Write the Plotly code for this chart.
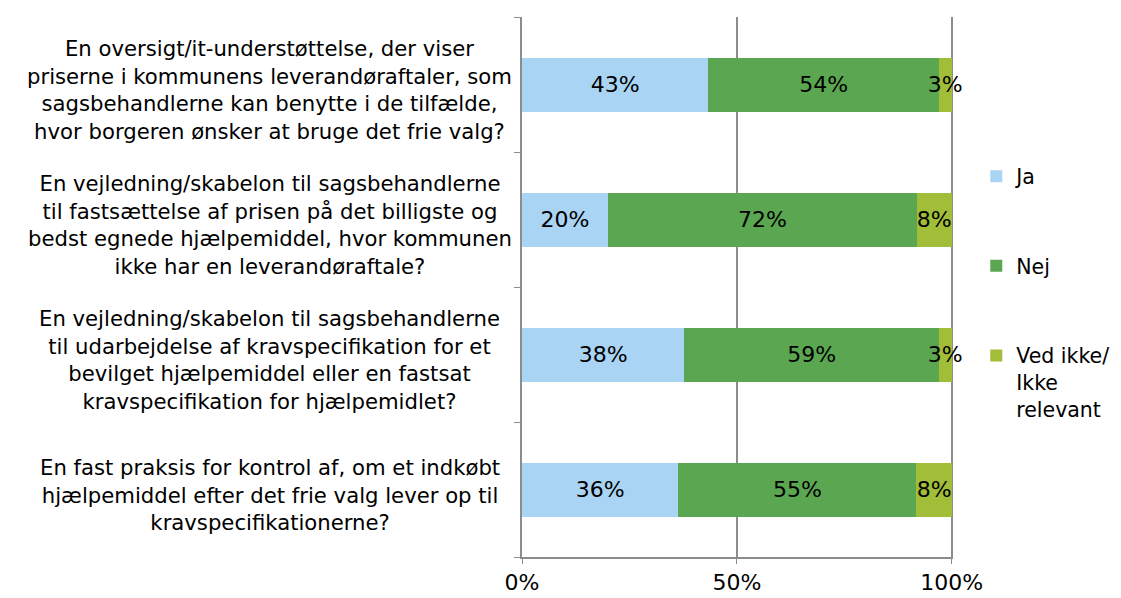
import plotly.graph_objects as go

categories = [
    "En oversigt/it-understøttelse, der viser<br>priserne i kommunens leverandøraftaler, som<br>sagsbehandlerne kan benytte i de tilfælde,<br>hvor borgeren ønsker at bruge det frie valg?",
    "En vejledning/skabelon til sagsbehandlerne<br>til fastsættelse af prisen på det billigste og<br>bedst egnede hjælpemiddel, hvor kommunen<br>ikke har en leverandøraftale?",
    "En vejledning/skabelon til sagsbehandlerne<br>til udarbejdelse af kravspecifikation for et<br>bevilget hjælpemiddel eller en fastsat<br>kravspecifikation for hjælpemidlet?",
    "En fast praksis for kontrol af, om et indkøbt<br>hjælpemiddel efter det frie valg lever op til<br>kravspecifikationerne?",
]
series_names = ["Ja", "Nej", "Ved ikke/<br>Ikke<br>relevant"]
ja = [0.434, 0.200, 0.378, 0.364]
nej = [0.536, 0.719, 0.592, 0.554]
ved_ikke = [0.030, 0.081, 0.030, 0.082]
colors = ["#A9D4F3", "#5BA651", "#A2BD37"]
x_ticks = [0, 0.5, 1.0]
x_ticklabels = ["0%", "50%", "100%"]

FONT = "DejaVu Sans"
FS = 22
ids = list(range(len(categories)))

fig = go.Figure()
for name, vals, col in zip(series_names, [ja, nej, ved_ikke], colors):
    fig.add_trace(go.Bar(
        y=ids, x=vals, name=name, orientation="h",
        marker=dict(color=col, line=dict(width=0)),
        text=[f"{round(v*100)}%" for v in vals],
        textposition="inside", insidetextanchor="middle", textangle=0,
        textfont=dict(color="black", size=FS, family=FONT),
        constraintext="none", cliponaxis=False,
        legendgroup=name,
    ))

for i, cat in enumerate(categories):
    fig.add_annotation(
        x=-0.585, xref="paper", y=i, yref="y", text=cat,
        xanchor="center", yanchor="middle", align="center",
        yshift=-5, showarrow=False,
        font=dict(size=21.2, family=FONT, color="black"),
    )

fig.update_layout(
    barmode="stack", bargap=0.6,
    width=1113, height=590,
    margin=dict(l=514, r=168, t=9, b=41, autoexpand=False),
    paper_bgcolor="white", plot_bgcolor="white",
    font=dict(family=FONT, size=FS, color="black"),
    uniformtext=dict(mode="show", minsize=FS),
    legend=dict(x=1.054, xanchor="left", y=0.742, yanchor="top",
                valign="top", tracegroupgap=60,
                font=dict(size=20.5, family=FONT), traceorder="grouped"),
    showlegend=True,
)
fig.update_xaxes(
    range=[0, 1.003], tickvals=x_ticks, ticktext=x_ticklabels,
    showgrid=True, gridcolor="#8C8C8C", gridwidth=1.5,
    showline=True, linecolor="#8C8C8C", linewidth=1.5,
    ticks="outside", ticklen=5, tickcolor="#8C8C8C",
    zeroline=False, tickfont=dict(size=FS, family=FONT),
)
fig.update_yaxes(
    type="category", range=[len(categories) - 0.5, -0.5],
    tickvals=ids, showticklabels=False,
    tickson="boundaries", ticks="outside", ticklen=6, tickcolor="#8C8C8C",
    showline=True, linecolor="#8C8C8C", linewidth=1.5,
    showgrid=False, zeroline=False,
)

fig.write_html("out.html")
